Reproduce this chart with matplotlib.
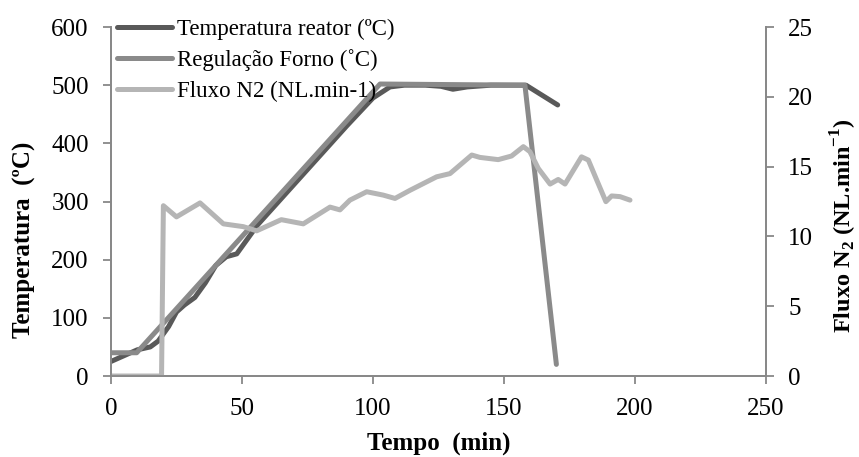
import matplotlib
matplotlib.use('Agg')
import matplotlib.pyplot as plt

plt.rcParams['font.family'] = ['Liberation Serif', 'DejaVu Serif']
plt.rcParams['mathtext.fontset'] = 'custom'
plt.rcParams['mathtext.rm'] = 'Liberation Serif'
plt.rcParams['mathtext.bf'] = 'Liberation Serif:bold'

# Temperatura reator (ºC)
t_reator = [0, 5, 10, 15, 18, 22, 25, 28, 32, 36, 40, 44, 48, 52, 56, 60, 70, 80, 90, 100,
            106.5, 112, 120, 126, 130.5, 136, 145, 158.4, 170.5]
temp_reator = [25, 35, 45, 50, 60, 85, 110, 122, 135, 160, 190, 205, 210, 235, 260, 280,
               330, 380, 430, 478, 497, 500, 500, 498, 493, 497, 500, 500, 466]

# Regulação Forno (ºC)
t_forno = [0, 9.8, 102.7, 158, 170]
temp_forno = [40, 40, 502, 500, 20]

# Fluxo N2 (NL.min-1)
t_fluxo = [0, 19.3, 20, 25, 34, 42.9, 50.5, 55.6, 65, 73.4, 83.6, 87.4, 91.2, 97.6, 103.9,
           108.4, 114.1, 124.3, 129.4, 137.7, 140.8, 147.8, 152.9, 157.4, 159.9, 163.1,
           167.6, 170.7, 173.3, 179.6, 182.2, 185.4, 188.9, 191.1, 194.3, 198.1]
fluxo = [0, 0, 12.2, 11.4, 12.4, 10.9, 10.7, 10.4, 11.2, 10.9, 12.1, 11.9, 12.6, 13.2, 12.96,
         12.72, 13.3, 14.27, 14.5, 15.83, 15.66, 15.5, 15.76, 16.43, 16.07, 14.87,
         13.75, 14.08, 13.75, 15.7, 15.47, 14.04, 12.49, 12.9, 12.85, 12.6]

spine_col = '#888888'

fig = plt.figure(figsize=(8.59, 4.57), dpi=100)
ax = fig.add_axes([0.1292, 0.1772, 0.7625, 0.7637])
ax2 = ax.twinx()

l1, = ax.plot(t_reator, temp_reator, color='#595959', lw=3.6, solid_capstyle='round',
              label='Temperatura reator (ºC)')
l2, = ax.plot(t_forno, temp_forno, color='#8a8a8a', lw=3.6, solid_capstyle='round',
              label='Regulação Forno (˚C)')
l3, = ax2.plot(t_fluxo, fluxo, color='#b5b5b5', lw=3.6, solid_capstyle='round',
               label='Fluxo N2 (NL.min-1)')

ax.set_xlim(0, 250)
ax.set_ylim(0, 600)
ax2.set_ylim(0, 25)
ax.set_xticks(range(0, 251, 50))
ax.set_yticks(range(0, 601, 100))
ax2.set_yticks(range(0, 26, 5))

for a in (ax, ax2):
    a.spines['top'].set_visible(False)
    for s in a.spines.values():
        s.set_color(spine_col)
        s.set_linewidth(1.3)
    a.tick_params(direction='out', length=6, width=1.3, color=spine_col, pad=10,
                  labelsize=18, labelcolor='black')

ax.set_xlabel('Tempo  (min)', fontsize=18, fontweight='bold')
ax.xaxis.set_label_coords(0.5, -0.16)
ax.set_ylabel('Temperatura  (ºC)', fontsize=18, fontweight='bold')
ax.yaxis.set_label_coords(-0.114, 0.39)
ax2.set_ylabel(r'Fluxo N$_\mathbf{2}$ (NL.min$^\mathbf{-1}$)', fontsize=17.5,
               fontweight='bold')
ax2.yaxis.set_label_coords(1.096, 0.43)

ax.legend(handles=[l1, l2, l3], loc='upper left', bbox_to_anchor=(0.009, 1.023),
          frameon=False, fontsize=16.5, handlelength=2.4, handletextpad=0.22,
          labelspacing=0.4, borderaxespad=0, borderpad=0)

fig.savefig('out.png', dpi=100)
